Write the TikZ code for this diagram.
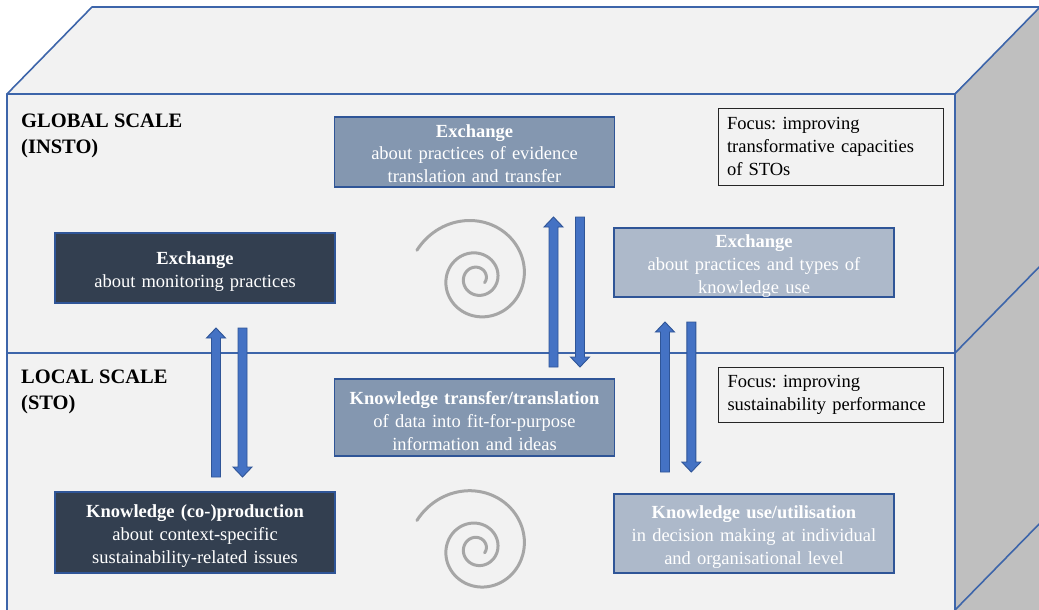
\documentclass[tikz,border=0pt]{standalone}
\usepackage{fontspec}
\setmainfont{Liberation Serif}
\frenchspacing
\definecolor{facefill}{HTML}{F2F2F2}
\definecolor{sidefill}{HTML}{BFBFBF}
\definecolor{cubeedge}{HTML}{3D65AA}
\definecolor{boxedge}{HTML}{2F5597}
\definecolor{darkfill}{HTML}{333F50}
\definecolor{midfill}{HTML}{8497B0}
\definecolor{lightfill}{HTML}{ADB9CA}
\definecolor{arrowfill}{HTML}{4472C4}
\definecolor{spiralgray}{HTML}{A6A6A6}
% taller first line, so the text block sits a little lower in its box
\newcommand\lift{\rule{0pt}{20pt}}
% block arrows: x of the axis, y of the tip / top, y of the base / tip
\newcommand\blockup[3]{%
  \filldraw[blockarrow] ({#1-4.5},#3) -- ({#1-4.5},{#2+10}) -- ({#1-9.5},{#2+10}) -- (#1,#2)
    -- ({#1+9.5},{#2+10}) -- ({#1+4.5},{#2+10}) -- ({#1+4.5},#3) -- cycle;}
\newcommand\blockdown[3]{%
  \filldraw[blockarrow] ({#1-4.5},#2) -- ({#1-4.5},{#3-10}) -- ({#1-9.5},{#3-10}) -- (#1,#3)
    -- ({#1+9.5},{#3-10}) -- ({#1+4.5},{#3-10}) -- ({#1+4.5},#2) -- cycle;}
% logarithmic spiral around a centre point
\newcommand\swirl[2]{%
  \draw[spiral] plot[domain=-65:840, samples=260, smooth, variable=\t]
    ({#1+57.4*exp(-0.002273*\t)*sin(\t)}, {#2-57.4*exp(-0.002273*\t)*cos(\t)});}
\begin{document}
\begin{tikzpicture}[x=1pt,y=-1pt,
  edge/.style={draw=cubeedge, line width=1.6pt, line join=round},
  box/.style={draw=boxedge, line width=1.4pt, text=white, align=center,
    inner sep=0pt, minimum width=280pt, text width=272pt,
    font=\fontsize{18.5}{22.6}\selectfont},
  darkbox/.style={box, fill=darkfill},
  midbox/.style={box, fill=midfill},
  lightbox/.style={box, fill=lightfill},
  focusbox/.style={draw=black!85, line width=0.9pt, fill=facefill, align=left,
    inner sep=0pt, text width=207pt, minimum width=225pt,
    font=\fontsize{18.5}{23}\selectfont},
  scalelabel/.style={anchor=north west, inner sep=0pt, align=left,
    font=\fontsize{20.5}{25.5}\selectfont\bfseries},
  spiral/.style={draw=spiralgray, line width=3pt, line cap=round},
  blockarrow/.style={fill=arrowfill, draw=boxedge, line width=0.9pt, line join=miter},
]
\useasboundingbox (0,0) rectangle (1039,610);
\clip (0,0) rectangle (1039,610);
\fill[white] (0,0) rectangle (1039,610);

% the slab: top, side and front faces
\filldraw[edge, fill=facefill] (7,94) -- (92,7) -- (1045,7) -- (955,94) -- cycle;
\filldraw[edge, fill=sidefill] (955,94) -- (1041,6) -- (1041,620) -- (955,620) -- cycle;
\filldraw[edge, fill=facefill] (7,94) rectangle (955,620);
\draw[edge] (955,610) -- (1045,518);
% boundary between the two scales
\draw[edge] (7,353) -- (955,353) -- (1045,261);

% scale labels
\node[scalelabel] (global) at (21,114) {GLOBAL SCALE\\(INSTO)};
\node[scalelabel] (local) at (21,370) {LOCAL SCALE\\(STO)};

% global scale boxes
\node[darkbox, minimum height=70pt] (monit) at (195,268) {\lift\textbf{Exchange}\\about monitoring practices};
\node[midbox, minimum height=70pt] (evid) at (474.5,152) {\rule{0pt}{16pt}\textbf{Exchange}\\about practices of evidence\\translation and transfer};
\node[lightbox, minimum height=69pt] (types) at (754,262.5) {\lift\textbf{Exchange}\\about practices and types of\\knowledge use};
\node[focusbox, minimum height=77pt] (focusg) at (830.5,146.5) {Focus: improving\\transformative capacities\\of STOs};

% local scale boxes
\node[midbox, minimum height=77pt] (transl) at (474.5,417.5) {\lift\textbf{Knowledge transfer/translation}\\of data into fit-for-purpose\\information and ideas};
\node[darkbox, minimum height=81pt] (prod) at (195,532.5) {\lift\textbf{Knowledge (co-)production}\\about context-specific\\sustainability-related issues};
\node[lightbox, minimum height=79pt] (use) at (754,533.5) {\lift\textbf{Knowledge use/utilisation}\\in decision making at individual\\and organisational level};
\node[focusbox, minimum height=55pt] (focusl) at (831,394.5) {Focus: improving\\sustainability performance};

% exchange arrows between the scales
\blockup{216}{328}{477}
\blockdown{242.5}{328}{477}
\blockup{553.5}{217}{367}
\blockdown{580}{217}{367}
\blockup{665}{322}{472}
\blockdown{691.3}{322}{472}

% spirals
\swirl{477.2}{278.4}
\swirl{477.2}{548.6}
\end{tikzpicture}
\end{document}
